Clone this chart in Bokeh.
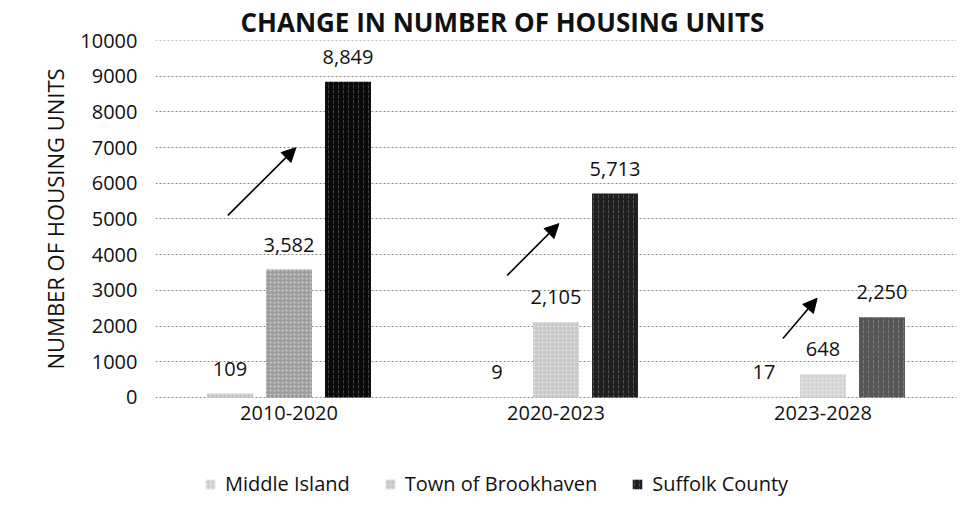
from bokeh.plotting import figure
from bokeh.models import (FactorRange, Range1d, ColumnDataSource, Legend, LegendItem, Arrow,
                          NormalHead, FixedTicker, Title)
from bokeh.transform import dodge
from bokeh.core.properties import value
from bokeh.embed import file_html
from bokeh.resources import INLINE

# ---------------- data ----------------
title_text = "CHANGE IN NUMBER OF HOUSING UNITS"
y_axis_title = "NUMBER OF HOUSING UNITS"
periods = ["2010-2020", "2020-2023", "2023-2028"]
series_names = ["Middle Island", "Town of Brookhaven", "Suffolk County"]
middle_island = [109, 9, 17]
brookhaven = [3582, 2105, 648]
suffolk = [8849, 5713, 2250]
y_ticks = [0, 1000, 2000, 3000, 4000, 5000, 6000, 7000, 8000, 9000, 10000]

# ---------------- style ----------------
FONT = "Open Sans"
TEXT = "#111111"
MI_FILL = ["#c6c6c6", "#d0d0d0", "#d0d0d0"]
TOWN_FILL = ["#9c9c9c", "#c9c9c9", "#d4d4d4"]
SUFF_FILL = ["#0a0a0a", "#1f1f1f", "#565656"]
OFFSETS = [-0.221, 0.0, 0.221]
BAR_W = 0.172
# annotation arrows: (x_start, y_start, x_end, y_end) in chart coordinates
ARROWS = [(0.271, 5100, 0.526, 7000),
          (1.317, 3420, 1.511, 4870),
          (2.350, 1650, 2.478, 2780)]

src = ColumnDataSource(dict(
    period=periods,
    base=[0] * len(periods),
    mi=middle_island, town=brookhaven, suff=suffolk,
    mi_lbl=[f"{v:,}" for v in middle_island],
    town_lbl=[f"{v:,}" for v in brookhaven],
    suff_lbl=[f"{v:,}" for v in suffolk],
    mi_fill=MI_FILL, town_fill=TOWN_FILL, suff_fill=SUFF_FILL,
))

# frame runs from the top gridline down to the bottom of the picture, so that
# the category labels and the legend live inside it; 0..10000 keep the same scale
p = figure(x_range=FactorRange(*periods, range_padding=0.0),
           y_range=Range1d(-3309, 10002),
           frame_width=801, frame_height=475,
           min_border_left=155, min_border_right=15,
           min_border_top=39, min_border_bottom=0,
           output_backend="svg", toolbar_location=None,
           background_fill_color="white", border_fill_color="white")
p.outline_line_color = None
p.xaxis.visible = False

p.title = Title(text=title_text, align="left", offset=85, standoff=2,
                text_font=FONT, text_font_size="26px", text_font_style="bold",
                text_color=TEXT)

cols = [("mi", "mi_fill", "mi_lbl", 0.5, ".", 4),
        ("town", "town_fill", "town_lbl", 0.55, ".", 4),
        ("suff", "suff_fill", "suff_lbl", 0.22, ":", 5)]
renderers = []
for (field, fill, lbl, halpha, hpat, hscale), off in zip(cols, OFFSETS):
    r = p.vbar(x=dodge("period", off, range=p.x_range), top=field, width=BAR_W,
               source=src, fill_color=fill, line_color=None,
               hatch_pattern=hpat, hatch_color="white", hatch_alpha=halpha,
               hatch_scale=hscale)
    renderers.append(r)
    p.text(x=dodge("period", off, range=p.x_range), y=field, text=lbl, source=src,
           text_align="center", text_baseline="middle", y_offset=-25,
           text_font=value(FONT), text_font_size="20px", text_color=TEXT)

# category (x axis) labels
p.text(x="period", y="base", text="period", source=src,
       text_align="center", text_baseline="middle", y_offset=16,
       text_font=value(FONT), text_font_size="20px", text_color=TEXT)

# y axis
p.yaxis.ticker = FixedTicker(ticks=y_ticks)
yax = p.yaxis[0]
yax.axis_line_color = None
yax.major_tick_line_color = None
yax.minor_tick_line_color = None
yax.major_label_text_font = FONT
yax.major_label_text_font_size = "20px"
yax.major_label_text_color = TEXT
yax.major_label_standoff = 12
p.add_layout(Title(text=y_axis_title, align="left", offset=146, standoff=15,
                   text_font=FONT, text_font_size="22px", text_font_style="normal",
                   text_color=TEXT), "left")

p.xgrid.grid_line_color = None
p.ygrid.grid_line_color = "#8a8a8a"
p.ygrid.grid_line_dash = "2 2"
p.ygrid.grid_line_width = 1

# arrows
for xs, ys, xe, ye in ARROWS:
    p.add_layout(Arrow(x_start=xs, y_start=ys, x_end=xe, y_end=ye,
                       line_color="black", line_width=1.6,
                       end=NormalHead(size=14, fill_color="black", line_color="black")))

legend = Legend(items=[LegendItem(label=n, renderers=[r], index=1)
                       for n, r in zip(series_names, renderers)],
                location=(49, 18), orientation="horizontal",
                label_text_font=FONT, label_text_font_size="20px",
                label_text_color=TEXT, glyph_width=12, glyph_height=12,
                label_standoff=9, spacing=34, padding=0, margin=0,
                border_line_color=None, background_fill_alpha=0)
p.add_layout(legend, "center")

open("out.html", "w").write(file_html(p, INLINE))
